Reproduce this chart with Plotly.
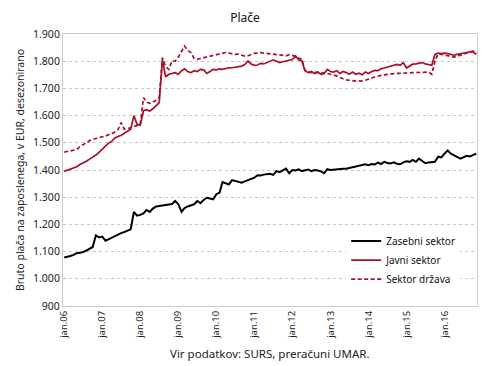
import pandas as pd
import plotly.graph_objects as go

months = pd.date_range("2006-01-01", periods=131, freq="MS")

zasebni = [1078,1080,1084,1088,1094,1096,1098,1104,1110,1117,
           1160,1152,1155,1140,1145,1151,1158,1164,1168,1172,
           1176,1182,1246,1232,1235,1240,1253,1246,1258,1266,
           1268,1270,1272,1274,1275,1286,1274,1246,1260,1266,
           1270,1274,1286,1278,1290,1298,1295,1292,1311,1317,
           1356,1350,1347,1363,1360,1358,1353,1358,1362,1366,
           1372,1381,1380,1383,1384,1386,1382,1396,1392,1398,
           1405,1388,1400,1398,1402,1396,1398,1402,1396,1400,
           1398,1395,1388,1403,1400,1402,1401,1403,1405,1405,
           1408,1410,1412,1415,1418,1421,1418,1422,1420,1427,
           1422,1430,1426,1424,1428,1423,1421,1428,1432,1430,
           1437,1430,1442,1432,1425,1428,1430,1430,1449,1446,
           1460,1472,1460,1455,1448,1442,1448,1452,1450,1456,
           1460]

javni = [1395,1400,1405,1408,1412,1420,1425,1432,1440,1446,
         1455,1465,1478,1488,1498,1505,1518,1522,1528,1535,
         1542,1550,1600,1568,1565,1618,1622,1617,1625,1635,
         1648,1805,1742,1752,1755,1758,1752,1765,1772,1762,
         1758,1765,1762,1770,1768,1755,1762,1770,1768,1772,
         1770,1774,1776,1776,1778,1780,1782,1788,1801,1790,
         1785,1786,1792,1790,1795,1800,1805,1800,1795,1798,
         1800,1803,1806,1819,1805,1801,1765,1758,1762,1755,
         1760,1752,1755,1770,1762,1760,1765,1755,1762,1758,
         1752,1760,1752,1756,1750,1760,1755,1762,1766,1765,
         1772,1775,1778,1782,1786,1788,1785,1795,1775,1782,
         1789,1790,1792,1795,1790,1787,1785,1825,1830,1828,
         1830,1828,1826,1822,1825,1828,1830,1832,1834,1834,
         1825]

drzava = [1466,1468,1470,1472,1475,1486,1492,1500,1508,1513,
          1516,1520,1522,1524,1530,1533,1540,1548,1574,1550,
          1552,1556,1560,1566,1568,1666,1650,1645,1650,1656,
          1666,1813,1780,1770,1801,1800,1815,1838,1856,1840,
          1832,1810,1807,1810,1813,1815,1820,1822,1825,1828,
          1830,1832,1830,1828,1825,1826,1822,1819,1820,1825,
          1829,1830,1832,1830,1828,1826,1825,1824,1823,1822,
          1820,1824,1822,1818,1812,1807,1766,1760,1758,1760,
          1758,1756,1758,1755,1752,1748,1746,1740,1735,1731,
          1730,1728,1727,1728,1727,1730,1733,1738,1742,1746,
          1748,1750,1752,1753,1754,1755,1755,1756,1756,1757,
          1758,1758,1759,1760,1760,1760,1752,1800,1828,1825,
          1822,1820,1818,1815,1818,1822,1826,1830,1836,1838,
          1828]

tick_dates = pd.date_range("2006-01-01", "2016-01-01", freq="YS")
tick_labels = ["jan.%02d" % (d.year % 100) for d in tick_dates]
y_ticks = [900, 1000, 1100, 1200, 1300, 1400, 1500, 1600, 1700, 1800, 1900]

RED = "#A8102A"
FONT = "Noto Sans"

fig = go.Figure()
fig.add_trace(go.Scatter(x=months, y=zasebni, mode="lines", name="Zasebni sektor",
                         line=dict(color="black", width=2)))
fig.add_trace(go.Scatter(x=months, y=javni, mode="lines", name="Javni sektor",
                         line=dict(color=RED, width=1.7)))
fig.add_trace(go.Scatter(x=months, y=drzava, mode="lines", name="Sektor država",
                         line=dict(color=RED, width=1.7, dash="4px,2.5px")))

fig.update_layout(
    width=490, height=366,
    margin=dict(l=63, r=13, t=34, b=60, autoexpand=False),
    paper_bgcolor="white", plot_bgcolor="white",
    separators=",.",
    font=dict(family=FONT, size=10, color="#222"),
    title=dict(text="Plače", x=0.5, xanchor="center", y=1 - 18 / 366, yanchor="middle",
               font=dict(family=FONT, size=12, color="#111")),
    showlegend=True,
    legend=dict(x=0.684, y=0.292, xanchor="left", yanchor="top",
                bgcolor="white", font=dict(family=FONT, size=10, color="#111"),
                tracegroupgap=0, itemwidth=30),
    annotations=[dict(text="Vir podatkov: SURS, preračuni UMAR.", x=0.5, y=-(353 - 306) / 272,
                      xref="paper", yref="paper", showarrow=False, xanchor="center",
                      yanchor="middle", font=dict(family=FONT, size=11.5, color="#222"))],
)
fig.update_xaxes(
    range=[pd.Timestamp("2005-12-20"), pd.Timestamp("2016-11-08")],
    tickvals=tick_dates, ticktext=tick_labels, tickangle=-90,
    showgrid=False, showline=True, linecolor="#cccccc", linewidth=1, mirror=True,
    ticks="", tickfont=dict(size=9.5), automargin=False,
)
fig.update_yaxes(
    range=[900, 1900], tickvals=y_ticks, tickformat=",.0f", separatethousands=True,
    showgrid=True, gridcolor="#c8c8c8", griddash="dot", gridwidth=1,
    showline=True, linecolor="#cccccc", linewidth=1, mirror=True,
    ticks="", zeroline=False, tickfont=dict(size=10.5), automargin=False,
    title=dict(text="Bruto plača na zaposlenega, v EUR, desezonirano",
               font=dict(family=FONT, size=10.5, color="#222"), standoff=6),
)

fig.write_html("out.html", config={"displayModeBar": False},
               post_script="document.body.style.margin='0';document.body.style.padding='0';")
